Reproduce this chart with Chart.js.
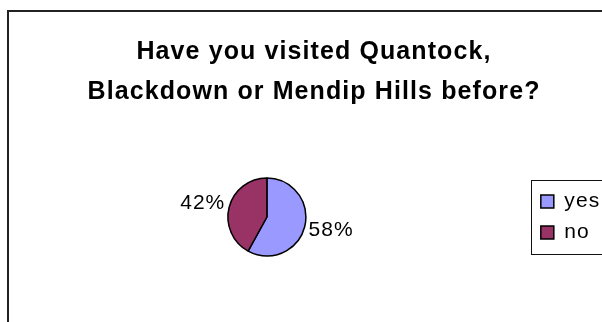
<!DOCTYPE html>
<html>
<head>
<meta charset="utf-8">
<script src="https://cdn.jsdelivr.net/npm/chart.js@4.4.1/dist/chart.umd.min.js"></script>
<style>
  html, body { margin: 0; padding: 0; background: #fff; overflow: hidden; }
  /* the chart is a bit wider than the window, the legend frame gets cut off on the right */
  #wrap { position: relative; width: 628px; height: 322px; }
</style>
</head>
<body>
<div id="wrap"><canvas id="myChart"></canvas></div>
<script>
// chart data
const categories = ['yes', 'no'];
const visitedBefore = [58, 42];
const titleLines = ['Have you visited Quantock,', 'Blackdown or Mendip Hills before?'];

const FONT = '"Liberation Sans", Arial, sans-serif';

// outer frame, percentage labels and the box around the legend
const frameAndLabels = {
    id: 'frameAndLabels',
    afterLayout(chart) {
        // the title sits a little right of the canvas middle in the original
        chart.titleBlock.left += 9;
        chart.titleBlock.right += 9;
    },
    beforeDraw(chart) {
        const ctx = chart.ctx;
        ctx.save();
        ctx.fillStyle = '#222';
        ctx.fillRect(7, 10, 2, chart.height);
        ctx.fillRect(7, 10, chart.width, 2);
        ctx.restore();
        // the original text is drawn slightly stretched
        ctx.letterSpacing = '1.1px';
    },
    beforeDatasetsDraw(chart) {
        chart.ctx.letterSpacing = '0px';
    },
    afterDatasetsDraw(chart) {
        const ctx = chart.ctx;
        const meta = chart.getDatasetMeta(0);
        ctx.save();
        ctx.font = '21px ' + FONT;
        ctx.letterSpacing = '1px';
        ctx.fillStyle = '#000';
        ctx.textBaseline = 'middle';
        meta.data.forEach(function(arc, i) {
            const p = arc.getProps(['x', 'y', 'startAngle', 'endAngle', 'outerRadius'], true);
            const mid = (p.startAngle + p.endAngle) / 2;
            const r = p.outerRadius + 4;
            const cos = Math.cos(mid);
            ctx.textAlign = cos >= 0 ? 'left' : 'right';
            ctx.fillText(visitedBefore[i] + '%', p.x + cos * r, p.y + Math.sin(mid) * (r + 12));
        });
        ctx.letterSpacing = '0px';

        // frame round the legend
        const lg = chart.legend;
        const boxes = lg.legendHitBoxes;
        const last = boxes[boxes.length - 1];
        const top = Math.round(boxes[0].top - 11);
        const bottom = Math.round(last.top + last.height + 11);
        ctx.strokeStyle = '#111';
        ctx.lineWidth = 1;
        ctx.strokeRect(Math.round(lg.left) + 0.5, top + 0.5, 200, bottom - top);
        ctx.restore();
    },
    afterDraw(chart) {
        chart.ctx.letterSpacing = '0px';
    }
};

new Chart(document.getElementById('myChart'), {
    type: 'pie',
    data: {
        labels: categories,
        datasets: [{
            data: visitedBefore,
            backgroundColor: ['#9999ff', '#993366'],
            borderColor: '#000',
            borderWidth: 1.5,
            radius: 39
        }]
    },
    options: {
        responsive: true,
        maintainAspectRatio: false,
        animation: false,
        layout: {
            padding: { left: 3, right: 21, top: 0, bottom: 0 }
        },
        plugins: {
            title: {
                display: true,
                text: titleLines,
                color: '#000',
                font: { family: FONT, size: 25, weight: 'bold', lineHeight: 1.6 },
                padding: { top: 32, bottom: 0 }
            },
            legend: {
                position: 'right',
                fullSize: false,
                labels: {
                    boxWidth: 13,
                    boxHeight: 13,
                    padding: 10,
                    color: '#000',
                    font: { family: FONT, size: 21 }
                }
            },
            tooltip: { enabled: false }
        }
    },
    plugins: [frameAndLabels]
});
</script>
</body>
</html>
